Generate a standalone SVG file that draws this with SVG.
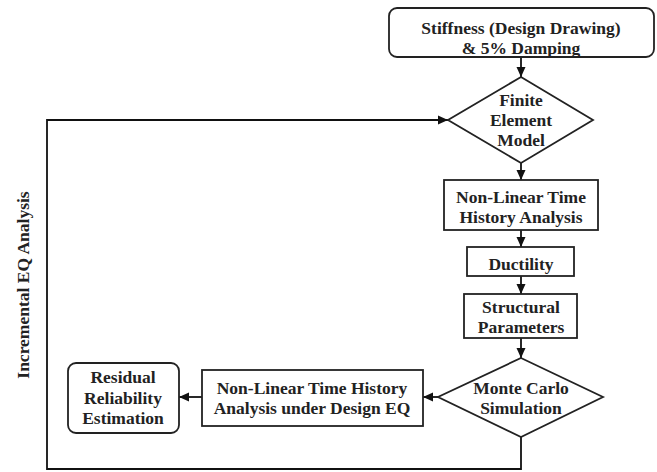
<svg xmlns="http://www.w3.org/2000/svg" width="657" height="472" viewBox="0 0 657 472">
  <defs>
    <marker id="arr" markerUnits="userSpaceOnUse" markerWidth="10" markerHeight="10" viewBox="0 0 10 10" refX="10" refY="5" orient="auto">
      <path d="M0,0.5 L10,5 L0,9.5 Z" fill="#111"/>
    </marker>
    <style>
      .box { fill: #fff; stroke: #222; stroke-width: 1.8; }
      .t { font-family: "Liberation Serif", "Times New Roman", serif; font-weight: bold; font-size: 17.5px; fill: #222; text-anchor: middle; }
      .c { fill: none; stroke: #111; stroke-width: 1.8; }
    </style>
  </defs>
  <rect width="657" height="472" fill="#fff"/>

  <g id="connectors">
    <line class="c" x1="521" y1="57" x2="521" y2="77" marker-end="url(#arr)"/>
    <line class="c" x1="521" y1="163" x2="521" y2="180" marker-end="url(#arr)"/>
    <line class="c" x1="521" y1="230" x2="521" y2="247" marker-end="url(#arr)"/>
    <line class="c" x1="521" y1="276" x2="521" y2="294" marker-end="url(#arr)"/>
    <line class="c" x1="521" y1="338" x2="521" y2="358" marker-end="url(#arr)"/>
    <line class="c" x1="438" y1="397" x2="423" y2="397" marker-end="url(#arr)"/>
    <line class="c" x1="202" y1="397" x2="179" y2="397" marker-end="url(#arr)"/>
    <polyline class="c" points="521,437 521,469 47,469 47,120 448,120" marker-end="url(#arr)"/>
  </g>

  <g id="stiffness">
    <rect class="box" x="389" y="8" width="265" height="49" rx="8"/>
    <text class="t" x="521" y="34">Stiffness (Design Drawing)</text>
    <text class="t" x="521" y="54">&amp; 5% Damping</text>
  </g>

  <g id="fem">
    <polygon class="box" points="521,77 593,120 521,163 448,120"/>
    <text class="t" x="521" y="106">Finite</text>
    <text class="t" x="521" y="126">Element</text>
    <text class="t" x="521" y="146">Model</text>
  </g>

  <g id="nltha">
    <rect class="box" x="444" y="180" width="154" height="50"/>
    <text class="t" x="521" y="203">Non-Linear Time</text>
    <text class="t" x="521" y="223">History Analysis</text>
  </g>

  <g id="ductility">
    <rect class="box" x="467" y="247" width="107" height="29"/>
    <text class="t" x="521" y="270">Ductility</text>
  </g>

  <g id="structural">
    <rect class="box" x="464" y="294" width="113" height="44"/>
    <text class="t" x="521" y="313">Structural</text>
    <text class="t" x="521" y="333">Parameters</text>
  </g>

  <g id="montecarlo">
    <polygon class="box" points="521,358 603,397 521,437 438,397"/>
    <text class="t" x="521" y="394">Monte Carlo</text>
    <text class="t" x="521" y="414">Simulation</text>
  </g>

  <g id="nltha-eq">
    <rect class="box" x="202" y="370" width="221" height="56"/>
    <text class="t" x="312" y="394">Non-Linear Time History</text>
    <text class="t" x="312" y="414">Analysis under Design EQ</text>
  </g>

  <g id="residual">
    <rect class="box" x="68" y="363" width="111" height="70" rx="8"/>
    <text class="t" x="123" y="383">Residual</text>
    <text class="t" x="123" y="404">Reliability</text>
    <text class="t" x="123" y="424">Estimation</text>
  </g>

  <g id="loop-label">
    <text class="t" transform="translate(29,285) rotate(-90)" x="0" y="0">Incremental EQ Analysis</text>
  </g>
</svg>
